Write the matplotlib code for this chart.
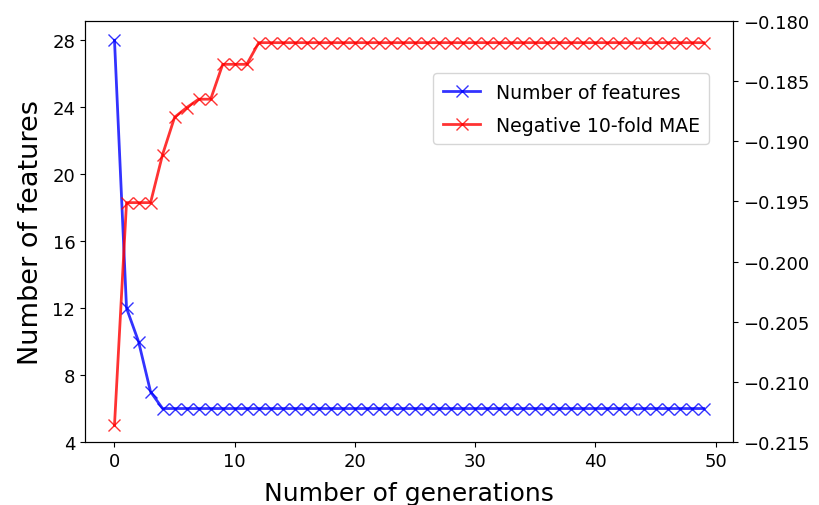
import matplotlib
matplotlib.use("Agg")
import matplotlib.pyplot as plt
from matplotlib.ticker import FuncFormatter
import numpy as np

# number of selected features per generation
n_features = [28, 12, 10, 7] + [6] * 46

# best negative 10-fold MAE per generation
neg_mae = ([-0.2136, -0.1951, -0.1951, -0.1951, -0.1911, -0.1880, -0.1872,
            -0.1865, -0.1865, -0.1836, -0.1836, -0.1836] + [-0.1818] * 38)

generations = np.arange(len(n_features))

fig = plt.figure(figsize=(8.2, 5.06), dpi=100)
ax = fig.add_axes([0.1037, 0.1245, 0.7903, 0.832])
ax2 = ax.twinx()

l1, = ax.plot(generations, n_features, color='b', marker='x', markersize=9,
              linewidth=2, alpha=0.8, label='Number of features')
l2, = ax2.plot(generations, neg_mae, color='r', marker='x', markersize=9,
               linewidth=2, alpha=0.8, label='Negative 10-fold MAE')

ax.set_ylim(4, 29.15)
ax.set_yticks(np.arange(4, 29, 4))
ax2.set_ylim(-0.215, -0.180)
ax2.set_yticks(np.arange(-0.215, -0.1799, 0.005))
ax2.yaxis.set_major_formatter(FuncFormatter(
    lambda v, p: ('%.3f' % v).replace('-', '\u2212')))

ax.set_xlabel('Number of generations', fontsize=18, labelpad=8)
ax.set_ylabel('Number of features', fontsize=19.5, labelpad=6)
ax.tick_params(labelsize=13)
ax2.tick_params(labelsize=13)

ax2.legend([l1, l2], [l1.get_label(), l2.get_label()], loc='upper right',
           bbox_to_anchor=(0.963, 0.876), borderaxespad=0, fontsize=13.6,
           labelspacing=0.75, borderpad=0.5)

fig.savefig('out.png', dpi=100)
